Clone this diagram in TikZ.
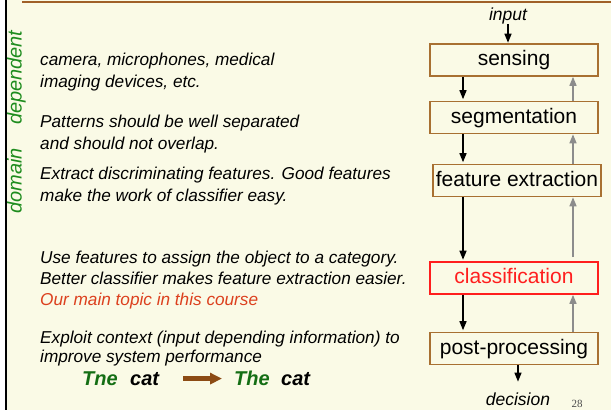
\documentclass[tikz,border=0pt]{standalone}
\usepackage{fontspec}
\setmainfont{Liberation Sans}
\newfontfamily\serifnum{Liberation Serif}
\usetikzlibrary{arrows.meta}
\definecolor{bg}{RGB}{250,250,230}
\definecolor{boxbrown}{RGB}{168,112,50}
\definecolor{topbrown}{RGB}{160,96,40}
\definecolor{domgreen}{RGB}{30,140,30}
\definecolor{catgreen}{RGB}{20,110,20}
\definecolor{topicred}{RGB}{220,64,30}
\definecolor{clsred}{RGB}{255,30,30}
\definecolor{arrbrown}{RGB}{140,75,20}
\definecolor{fbgray}{RGB}{140,140,140}
\begin{document}
\begin{tikzpicture}[x=1pt,y=-1pt,
  stage/.style={draw=boxbrown, line width=1.6pt, minimum width=168pt, minimum height=32pt, inner sep=0pt, font=\fontsize{21}{24}\selectfont, text height=15pt, text depth=4pt},
  desc/.style={anchor=base west, inner sep=0pt, align=left, font=\fontsize{17.2}{22}\selectfont\itshape},
  fwd/.style={-{Triangle[length=9pt,width=7pt]}, line width=1.4pt, black, shorten >=1.5pt},
  back/.style={-{Triangle[length=9pt,width=7pt]}, line width=1.4pt, fbgray},
  lbl/.style={inner sep=0pt, anchor=base, font=\fontsize{17.5}{20}\selectfont\itshape},
  catw/.style={anchor=base west, inner sep=0pt, font=\fontsize{20}{24}\selectfont\bfseries\itshape}
]
\useasboundingbox (0,0) rectangle (611,410);
\fill[bg] (0,0) rectangle (611,410);
\fill[white] (0,0) rectangle (5,410);
\draw[black, line width=2pt] (6,0) -- (6,410);
\draw[topbrown, line width=2pt] (22,2.3) -- (611,2.3);

% stages
\node[stage] (sensing) at (514,60) {sensing};
\node[stage] (segmentation) at (514,117.5) {segmentation};
\node[stage] (feature) at (517,180.5) {feature extraction};
\node[stage, draw=clsred, text=clsred] (classification) at (514,278) {classification};
\node[stage] (post) at (514,348.5) {post-processing};

\node[lbl] (input) at (508,20) {input};
\node[lbl] (decision) at (518,405.5) {decision};

\coordinate (L) at (463,0);
\coordinate (R) at (573,0);

\draw[fwd, shorten >=0.5pt] (input.south) -- (input.south |- sensing.north);
\draw[fwd] (sensing.south -| L) -- (segmentation.north -| L);
\draw[fwd] (segmentation.south -| L) -- (feature.north -| L);
\draw[fwd] (feature.south -| L) -- (classification.north -| L);
\draw[fwd] (classification.south -| L) -- (post.north -| L);
\draw[fwd, shorten >=0pt] (post.south -| decision.north) -- ([yshift=11pt]decision.north);

\draw[back] (segmentation.north -| R) -- (sensing.south -| R);
\draw[back] (feature.north -| R) -- (segmentation.south -| R);
\draw[back] ([yshift=4pt]classification.north -| R) -- (feature.south -| R);
\draw[back] (post.north -| R) -- (classification.south -| R);

% side label
\node[rotate=90, anchor=base, inner sep=0pt, text=domgreen, font=\fontsize{20}{22}\selectfont\itshape] (domain) at (21.5,122) {domain\hspace{23pt}dependent};

% descriptions (anchor is the baseline of the last line)
\node[desc] (t1) at (40,87) {camera, microphones, medical\\imaging devices, etc.};
\node[desc] (t2) at (40,149) {Patterns should be well separated\\and should not overlap.};
\node[desc] (t3) at (40,201) {Extract discriminating features. Good features\\make the work of classifier easy.};
\node[desc] (t4) at (40,305) {Use features to assign the object to a category.\\[-1pt]Better classifier makes feature extraction easier.\\[-1pt]\textcolor{topicred}{Our main topic in this course}};
\node[desc] (t5) at (40,362.5) {Exploit context (input depending information) to\\[-2.5pt]improve system performance};

% example
\node[catw, text=catgreen] (tne) at (82,385) {Tne};
\node[catw] (cat1) at (130,385) {cat};
\node[catw, text=catgreen] (the) at (234,385) {The};
\node[catw] (cat2) at (281,385) {cat};
\draw[arrbrown, line width=5pt, -{Triangle[length=12pt,width=11pt]}, shorten <=24pt, shorten >=12pt] (cat1.east) -- (cat1.east -| the.west);

\node[anchor=base, inner sep=0pt, font=\serifnum\fontsize{11}{13}\selectfont, text=black!70] (pg) at (577,407.5) {28};
\end{tikzpicture}
\end{document}
